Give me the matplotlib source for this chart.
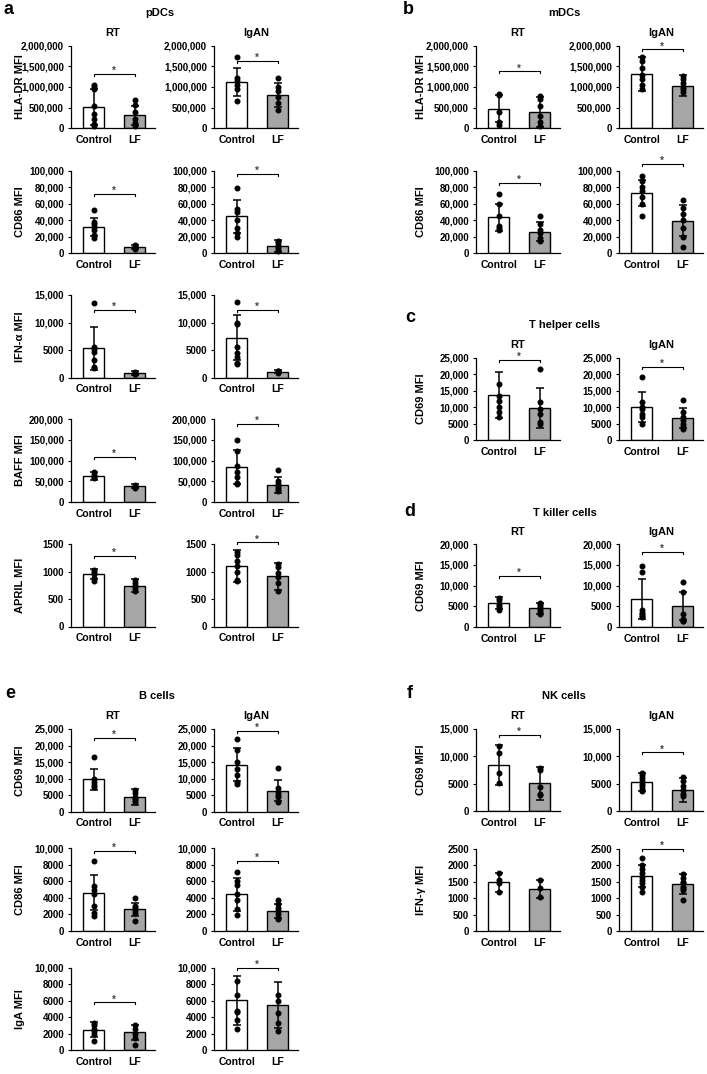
import matplotlib
matplotlib.use("Agg")
import matplotlib.pyplot as plt

plt.rcParams['font.family'] = ['Liberation Sans', 'DejaVu Sans']
plt.rcParams['font.weight'] = 'bold'

groups = ["Control", "LF"]

# --- data: mean, SD, individual points, bracket height ---
# a: pDCs
pdc_hla_rt = {"mean": [520000, 310000], "sd": [440000, 240000],
              "ctrl": [1050000, 1000000, 950000, 540000, 350000, 230000, 100000, 50000],
              "lf": [680000, 560000, 400000, 230000, 120000, 60000], "sig": 1310000}
pdc_hla_ig = {"mean": [1120000, 810000], "sd": [330000, 290000],
              "ctrl": [1720000, 1220000, 1150000, 1050000, 950000, 650000],
              "lf": [1210000, 1000000, 900000, 760000, 600000, 450000], "sig": 1630000}
pdc_cd86_rt = {"mean": [32000, 7000], "sd": [11000, 2500],
               "ctrl": [52000, 38000, 35000, 32000, 28000, 22000, 18000],
               "lf": [10000, 8000, 7000, 6000, 5000], "sig": 72000}
pdc_cd86_ig = {"mean": [44500, 9000], "sd": [20000, 7000],
               "ctrl": [79000, 53000, 50000, 40000, 30000, 25000, 20000],
               "lf": [15000, 13000, 10000, 7000, 5000, 3000], "sig": 96000}
pdc_ifna_rt = {"mean": [5300, 850], "sd": [3900, 350],
               "ctrl": [13500, 5500, 5200, 4600, 3200, 2000, 1800],
               "lf": [1000, 900, 700, 600], "sig": 12300}
pdc_ifna_ig = {"mean": [7200, 1050], "sd": [4100, 250],
               "ctrl": [13700, 10000, 9800, 5500, 4400, 3800, 2600, 2400],
               "lf": [1200, 1100, 1000, 900], "sig": 12300}
pdc_baff_rt = {"mean": [63000, 38000], "sd": [10000, 5000],
               "ctrl": [72000, 65000, 60000, 57000],
               "lf": [40000, 37000, 35000, 33000], "sig": 108000}
pdc_baff_ig = {"mean": [84000, 41000], "sd": [42000, 19000],
               "ctrl": [151000, 122000, 88000, 72000, 60000, 45000, 42000],
               "lf": [77000, 50000, 42000, 35000, 30000, 25000], "sig": 189000}
pdc_april_rt = {"mean": [950, 744], "sd": [90, 120],
                "ctrl": [1030, 1000, 950, 880, 820],
                "lf": [840, 790, 740, 700, 650], "sig": 1284}
pdc_april_ig = {"mean": [1104, 912], "sd": [290, 240],
                "ctrl": [1360, 1300, 1200, 1100, 1000, 850, 820],
                "lf": [1140, 1080, 980, 900, 800, 640], "sig": 1530}

# b: mDCs
mdc_hla_rt = {"mean": [470000, 390000], "sd": [330000, 370000],
              "ctrl": [830000, 800000, 400000, 150000, 80000],
              "lf": [780000, 700000, 550000, 300000, 150000, 50000], "sig": 1380000}
mdc_hla_ig = {"mean": [1310000, 1030000], "sd": [420000, 250000],
              "ctrl": [1720000, 1620000, 1450000, 1300000, 1200000, 1050000, 950000],
              "lf": [1270000, 1200000, 1100000, 1000000, 950000, 880000], "sig": 1910000}
mdc_cd86_rt = {"mean": [43700, 26000], "sd": [16300, 11500],
               "ctrl": [72000, 60000, 45000, 33000, 30000, 28000],
               "lf": [45000, 35000, 28000, 25000, 18000, 15000], "sig": 85000}
mdc_cd86_ig = {"mean": [73000, 39600], "sd": [15600, 18400],
               "ctrl": [93000, 88000, 80000, 75000, 68000, 60000, 45000],
               "lf": [65000, 55000, 48000, 40000, 30000, 20000, 7000], "sig": 108000}

# c: T helper cells
th_cd69_rt = {"mean": [13600, 9700], "sd": [7000, 6100],
              "ctrl": [17000, 13500, 12000, 10000, 8500, 7000],
              "lf": [21500, 11500, 9500, 8000, 5500, 5000], "sig": 24300}
th_cd69_ig = {"mean": [10000, 6700], "sd": [4600, 3100],
              "ctrl": [19200, 11500, 10000, 9500, 8000, 7000, 5000],
              "lf": [12300, 8500, 7000, 6000, 5000, 4000, 3500], "sig": 22300}

# d: T killer cells
tk_cd69_rt = {"mean": [5700, 4500], "sd": [1500, 1300],
              "ctrl": [7000, 6500, 5500, 5000, 4500, 4000],
              "lf": [5800, 5500, 5000, 4500, 4000, 3500, 3200], "sig": 12400}
tk_cd69_ig = {"mean": [6750, 5000], "sd": [4950, 3400],
              "ctrl": [14700, 13300, 4000, 3300, 3000, 2700, 2400],
              "lf": [10800, 8500, 3000, 2000, 1500, 1300], "sig": 18200}

# e: B cells
b_cd69_rt = {"mean": [9760, 4400], "sd": [3200, 2500],
             "ctrl": [16500, 10000, 9000, 8000, 7500],
             "lf": [6500, 5500, 4500, 4000, 3500, 2800], "sig": 22400}
b_cd69_ig = {"mean": [14100, 6300], "sd": [5000, 3200],
             "ctrl": [22000, 18500, 15000, 13000, 11000, 9000, 8200],
             "lf": [13200, 7000, 6000, 5000, 4500, 3000], "sig": 24500}
b_cd86_rt = {"mean": [4640, 2620], "sd": [2130, 800],
             "ctrl": [8500, 5400, 5000, 4500, 3000, 2200, 1800],
             "lf": [4000, 3000, 2800, 2500, 2200, 1200], "sig": 9700}
b_cd86_ig = {"mean": [4440, 2420], "sd": [2010, 850],
             "ctrl": [7100, 6000, 5500, 4500, 3700, 2600, 1900],
             "lf": [3700, 3300, 2800, 2400, 2000, 1600, 1400], "sig": 8500}
b_iga_rt = {"mean": [2500, 2150], "sd": [940, 950],
            "ctrl": [3300, 3000, 2600, 2300, 2000, 1100],
            "lf": [3100, 2600, 2000, 1500, 600], "sig": 5800}
b_iga_ig = {"mean": [6070, 5470], "sd": [2960, 2750],
            "ctrl": [8400, 6700, 4800, 4600, 3700, 2600],
            "lf": [6700, 6000, 4500, 3300, 2300], "sig": 10000}

# f: NK cells
nk_cd69_rt = {"mean": [8430, 5100], "sd": [3670, 3000],
              "ctrl": [11800, 10500, 7000, 5200],
              "lf": [7800, 7500, 4400, 3200, 3000], "sig": 13900}
nk_cd69_ig = {"mean": [5300, 3800], "sd": [1600, 2200],
              "ctrl": [7000, 6500, 6000, 5500, 5000, 4500, 4000, 3700],
              "lf": [6200, 5500, 4500, 3800, 3200, 2700], "sig": 10700}
nk_ifng_rt = {"mean": [1482, 1280], "sd": [290, 270],
              "ctrl": [1750, 1550, 1450, 1180],
              "lf": [1540, 1300, 1050], "sig": None}
nk_ifng_ig = {"mean": [1683, 1421], "sd": [333, 300],
              "ctrl": [2220, 2000, 1900, 1750, 1650, 1550, 1450, 1350, 1200],
              "lf": [1720, 1600, 1500, 1450, 1350, 1300, 1250, 950], "sig": 2500}

# --- layout (pixels) ---
W, H = 707, 1074
AX_H = 82.5
COLS = {"L": (71, 214), "R": (476, 619)}
AX_W = 84

# (rt, igan, ylabel, ymax, step, column, top px)
rows = [
    (pdc_hla_rt, pdc_hla_ig, "HLA-DR MFI", 2000000, 500000, "L", 45.7),
    (pdc_cd86_rt, pdc_cd86_ig, "CD86 MFI", 100000, 20000, "L", 170.7),
    (pdc_ifna_rt, pdc_ifna_ig, "IFN-α MFI", 15000, 5000, "L", 295),
    (pdc_baff_rt, pdc_baff_ig, "BAFF MFI", 200000, 50000, "L", 419.3),
    (pdc_april_rt, pdc_april_ig, "APRIL MFI", 1500, 500, "L", 544),
    (b_cd69_rt, b_cd69_ig, "CD69 MFI", 25000, 5000, "L", 729),
    (b_cd86_rt, b_cd86_ig, "CD86 MFI", 10000, 2000, "L", 848.3),
    (b_iga_rt, b_iga_ig, "IgA MFI", 10000, 2000, "L", 967.7),
    (mdc_hla_rt, mdc_hla_ig, "HLA-DR MFI", 2000000, 500000, "R", 45.7),
    (mdc_cd86_rt, mdc_cd86_ig, "CD86 MFI", 100000, 20000, "R", 170.7),
    (th_cd69_rt, th_cd69_ig, "CD69 MFI", 25000, 5000, "R", 357.7),
    (tk_cd69_rt, tk_cd69_ig, "CD69 MFI", 20000, 5000, "R", 544.3),
    (nk_cd69_rt, nk_cd69_ig, "CD69 MFI", 15000, 5000, "R", 728.7),
    (nk_ifng_rt, nk_ifng_ig, "IFN-γ MFI", 2500, 500, "R", 848.7),
]
# rows that carry the RT / IgAN titles
title_tops = {45.7, 357.7, 544.3, 729, 728.7}

headers = [("a", 9, 10, "pDCs", 160, 13), ("b", 408, 10, "mDCs", 564, 13),
           ("c", 410, 318, "T helper cells", 565, 325),
           ("d", 410, 511, "T killer cells", 565, 513),
           ("e", 10, 694, "B cells", 157, 696), ("f", 410, 694, "NK cells", 564, 696)]


def fmt(v):
    v = int(v)
    return f"{v:,}" if v >= 10000 else str(v)


def draw(ax, d, ymax, step):
    x = [0, 1]
    ax.bar(x, d["mean"], width=0.51, color=["white", "#a6a6a6"],
           edgecolor="black", linewidth=1.0, zorder=2)
    ax.errorbar(x, d["mean"], yerr=d["sd"], fmt="none", ecolor="black",
                elinewidth=1.1, capsize=2.6, capthick=1.1, zorder=3)
    for xi, pts in zip(x, [d["ctrl"], d["lf"]]):
        ax.plot([xi] * len(pts), pts, "o", color="black", markersize=3.3,
                zorder=4, clip_on=False)
    ax.set_xlim(-0.56, 1.5)
    ax.set_ylim(0, ymax)
    ticks = list(range(0, ymax + 1, step))
    ax.set_yticks(ticks, labels=[fmt(t) for t in ticks])
    ax.set_xticks(x, labels=groups)
    ax.tick_params(axis="y", direction="out", length=2.5, width=0.8, pad=2.5, labelsize=7)
    ax.tick_params(axis="x", length=0, pad=5, labelsize=7.5)
    for s in ["top", "right"]:
        ax.spines[s].set_visible(False)
    for s in ["left", "bottom"]:
        ax.spines[s].set_linewidth(0.9)
    if d["sig"] is not None:
        s = d["sig"]
        t = ymax * 0.025
        ax.plot([0, 0, 1, 1], [s - t, s, s, s - t], color="black", lw=0.8,
                clip_on=False, zorder=3)
        ax.annotate("*", (0.5, s), xytext=(0, -1.5), textcoords="offset points",
                    ha="center", va="bottom", fontsize=7, color="#444444",
                    annotation_clip=False)


fig = plt.figure(figsize=(W / 100, H / 100), dpi=100)

for rt, ig, ylab, ymax, step, col, top in rows:
    for k, (d, left) in enumerate(zip([rt, ig], COLS[col])):
        ax = fig.add_axes([left / W, 1 - (top + AX_H) / H, AX_W / W, AX_H / H])
        draw(ax, d, ymax, step)
        if top in title_tops:
            ax.set_title(["RT", "IgAN"][k], fontsize=8, fontweight="bold", pad=7)
    lab_x = 20 if col == "L" else 421
    fig.text(lab_x / W, 1 - (top + AX_H / 2) / H, ylab, rotation=90,
             ha="center", va="center", fontsize=8, fontweight="bold")

for letter, lx, ly, name, nx, ny in headers:
    fig.text(lx / W, 1 - ly / H, letter, ha="center", va="center",
             fontsize=13, fontweight="bold")
    fig.text(nx / W, 1 - ny / H, name, ha="center", va="center",
             fontsize=8, fontweight="bold")

fig.savefig("out.png", dpi=100)
